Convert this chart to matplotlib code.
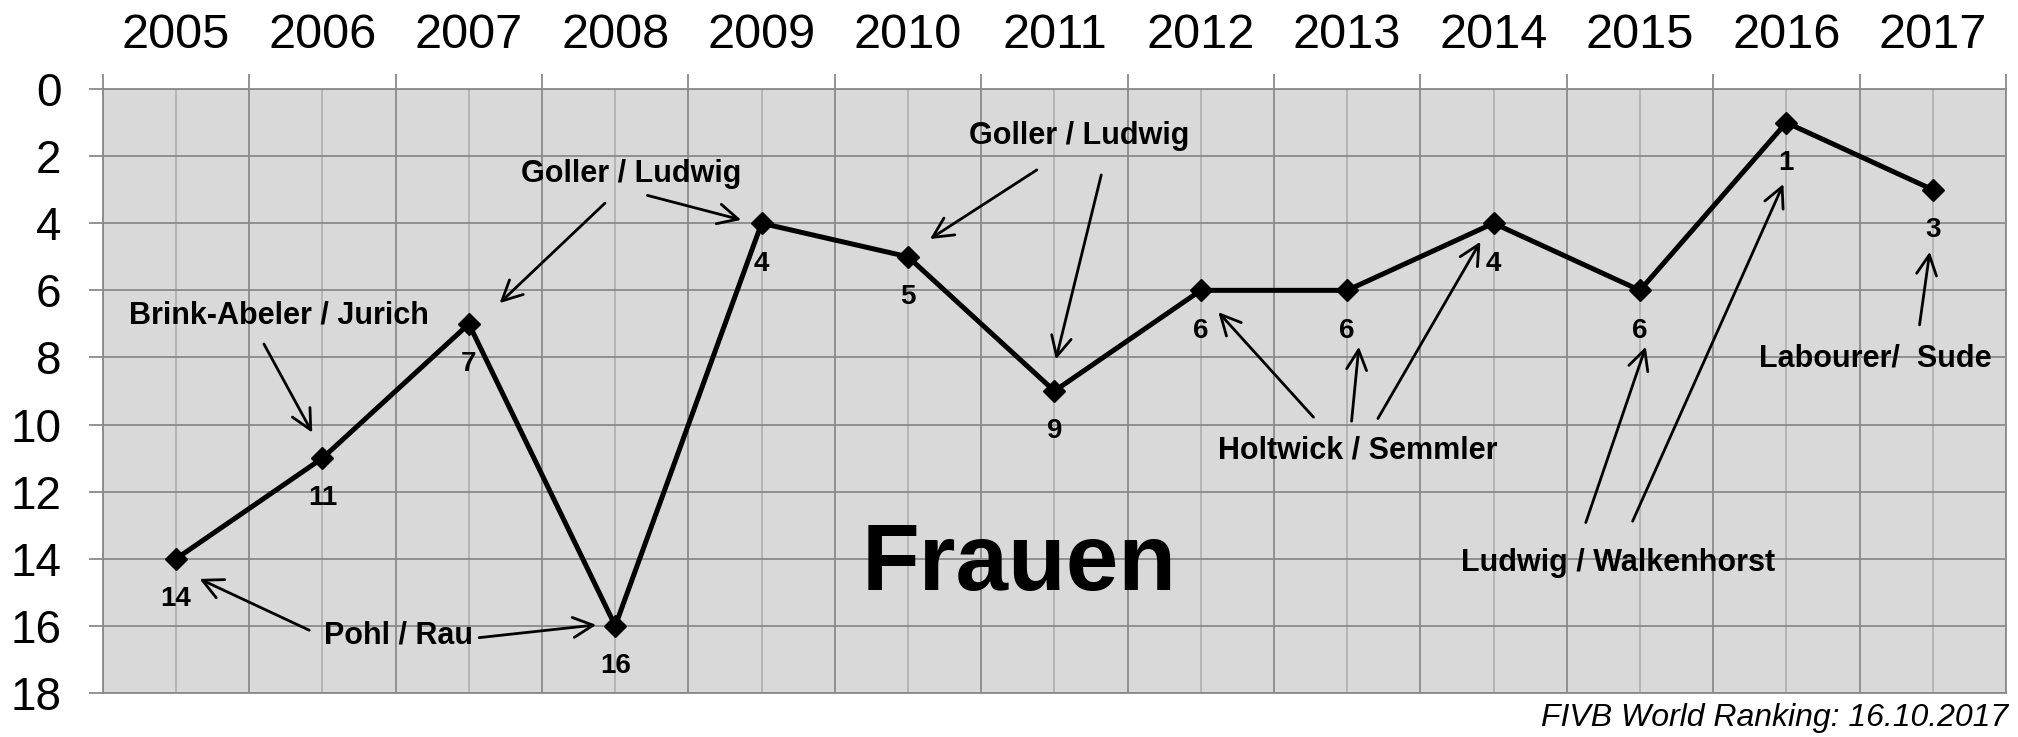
import numpy as np
import matplotlib
matplotlib.use("Agg")
import matplotlib.pyplot as plt

plt.rcParams['font.family'] = ['Liberation Sans', 'DejaVu Sans']

# FIVB world ranking of the best German women's beach volleyball team per year
years = ['2005', '2006', '2007', '2008', '2009', '2010', '2011',
         '2012', '2013', '2014', '2015', '2016', '2017']
ranking = [14, 11, 7, 16, 4, 5, 9, 6, 6, 4, 6, 1, 3]
y_ticks = [0, 2, 4, 6, 8, 10, 12, 14, 16, 18]

grid_dark = '#8a8a8a'
grid_light = '#b2b2b2'

fig = plt.figure(figsize=(20.18, 7.37), dpi=100)
ax = fig.add_axes([0.0510, 0.0597, 0.9430, 0.8195])
ax.set_facecolor('#d9d9d9')

x = np.arange(len(years))
ax.set_xlim(-0.5, len(years) - 0.5)
ax.set_ylim(18, 0)

# grid: dark lines at category borders and y ticks, light lines through the points
ax.set_xticks(np.arange(len(years) + 1) - 0.5)
ax.set_xticks(x, minor=True)
ax.set_xticklabels([])
ax.set_xticklabels(years, minor=True)
ax.xaxis.tick_top()
ax.set_yticks(y_ticks)
ax.grid(which='major', color=grid_dark, linewidth=1.3)
ax.grid(which='minor', axis='x', color=grid_light, linewidth=1.3)
ax.set_axisbelow(True)
ax.tick_params(axis='x', which='major', length=11, width=1.3, color=grid_dark)
ax.tick_params(axis='x', which='minor', length=0, pad=22, labelsize=35)
ax.tick_params(axis='y', length=10, width=1.3, color=grid_dark, pad=20, labelsize=33)
for s in ax.spines.values():
    s.set_color(grid_dark)
    s.set_linewidth(1.3)

ax.plot(x, ranking, color='black', linewidth=3.6, marker='D', markersize=11, zorder=3)

for xi, r in zip(x, ranking):
    ax.annotate(str(r), (xi, r), xytext=(0, -29), textcoords='offset points',
                ha='center', va='center', fontsize=20, fontweight='bold')

labels = [
    ('Goller / Ludwig', 3.11, 2.52),
    ('Brink-Abeler / Jurich', 0.70, 6.76),
    ('Goller / Ludwig', 6.17, 1.41),
    ('Pohl / Rau', 1.52, 16.28),
    ('Holtwick / Semmler', 8.07, 10.78),
    ('Ludwig / Walkenhorst', 9.85, 14.14),
    ('Labourer/  Sude', 11.61, 8.02),
]
for txt, lx, ly in labels:
    ax.text(lx, ly, txt, ha='center', va='center', fontsize=22, fontweight='bold')

arrows = [
    ((2.93, 3.40), (2.21, 6.38)),
    ((3.22, 3.17), (3.86, 3.90)),
    ((0.60, 7.60), (0.93, 10.24)),
    ((5.88, 2.41), (5.15, 4.47)),
    ((6.32, 2.56), (6.01, 8.06)),
    ((0.91, 16.13), (0.16, 14.60)),
    ((2.07, 16.35), (2.87, 15.97)),
    ((7.77, 9.78), (7.12, 6.65)),
    ((8.03, 9.90), (8.08, 7.68)),
    ((8.21, 9.82), (8.91, 4.55)),
    ((9.63, 12.92), (10.04, 7.68)),
    ((9.95, 12.88), (10.98, 2.83)),
    ((11.91, 7.03), (11.98, 4.85)),
]
for tail, head in arrows:
    ax.annotate('', xy=head, xytext=tail,
                arrowprops=dict(arrowstyle='->,head_length=0.9,head_width=0.45',
                                mutation_scale=16, color='black', linewidth=2.0,
                                shrinkA=0, shrinkB=0))

ax.text(5.76, 14.2, 'Frauen', ha='center', va='center', fontsize=68, fontweight='bold')

fig.text(0.995, 0.026, 'FIVB World Ranking: 16.10.2017', ha='right', va='center',
         fontsize=23, style='italic')

fig.savefig('out.png', dpi=100)
